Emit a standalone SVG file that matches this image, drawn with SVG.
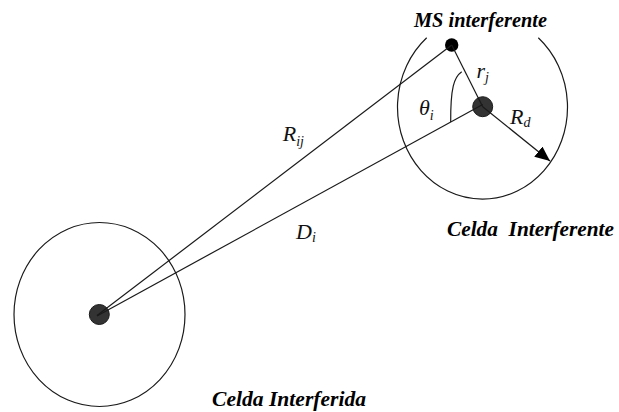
<svg xmlns="http://www.w3.org/2000/svg" width="619" height="412" viewBox="0 0 619 412">
  <style>
    .cell { fill: none; stroke: #1a1a1a; stroke-width: 1.2; }
    .line { fill: none; stroke: #1a1a1a; stroke-width: 1.2; }
    .dot { fill: #333; stroke: #1a1a1a; stroke-width: 1; }
    .ms { fill: #000; }
    text { font-family: 'Liberation Serif', 'Times New Roman', serif; }
    .var { font-style: italic; font-size: 22px; fill: #111; }
    .sub { font-size: 14px; }
    .title { font-style: italic; font-weight: bold; font-size: 21px; fill: #000; }
  </style>
  <defs>
    <marker id="arrow" markerUnits="userSpaceOnUse" markerWidth="16" markerHeight="14" refX="15" refY="6.5" orient="auto">
      <path d="M0,0 L15,6.5 L0,13 z" fill="#000"/>
    </marker>
  </defs>
  <rect width="619" height="412" fill="#fff"/>

  <g id="celda-interferida">
    <ellipse class="cell" cx="99.5" cy="314.5" rx="85.5" ry="92"/>
    <circle class="dot" cx="99.3" cy="314.5" r="10"/>
    <text class="title" x="212" y="406" textLength="154" lengthAdjust="spacingAndGlyphs">Celda Interferida</text>
  </g>

  <g id="celda-interferente">
    <path class="cell" d="M538.3,37.7 A85,92 0 1 1 426.7,37.7"/>
    <circle class="dot" cx="482.7" cy="106.7" r="10"/>
    <text class="title" x="447" y="236" textLength="167" lengthAdjust="spacingAndGlyphs" xml:space="preserve">Celda  Interferente</text>
  </g>

  <g id="ms-interferente">
    <circle class="ms" cx="451.7" cy="45" r="6.7"/>
    <text class="title" x="414" y="26.5" textLength="133" lengthAdjust="spacingAndGlyphs">MS interferente</text>
  </g>

  <g id="connectors">
    <line class="line" x1="97" y1="315.5" x2="451.7" y2="45"/>
    <line class="line" x1="97" y1="316" x2="482.7" y2="104.5"/>
    <line class="line" x1="451.7" y1="45" x2="482.7" y2="106.7"/>
    <line class="line" x1="482.7" y1="106.7" x2="550" y2="161" marker-end="url(#arrow)"/>
    <path class="line" d="M461.7,71.7 C454,77 450.5,88 450.7,122"/>
  </g>

  <g id="labels">
    <text class="var" x="282.7" y="140.7">R<tspan class="sub" dy="5">ij</tspan></text>
    <text class="var" x="296" y="239">D<tspan class="sub" dy="3">i</tspan></text>
    <text class="var" x="419" y="115">θ<tspan class="sub" dy="5">i</tspan></text>
    <text class="var" x="476.5" y="78">r<tspan class="sub" dy="4">j</tspan></text>
    <text class="var" x="510" y="124.3">R<tspan class="sub" dy="3">d</tspan></text>
  </g>
</svg>
